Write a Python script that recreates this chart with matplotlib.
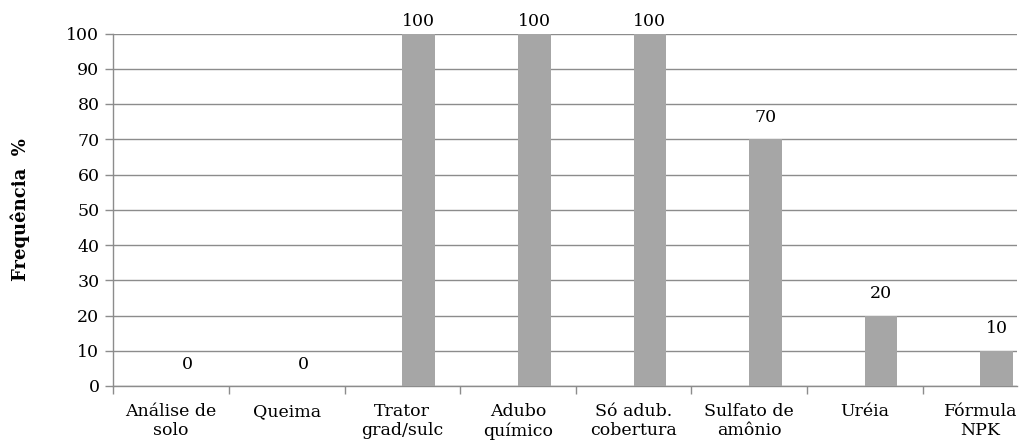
import matplotlib
matplotlib.use("Agg")
import matplotlib.pyplot as plt
import numpy as np

categories = ["Análise de\nsolo", "Queima", "Trator\ngrad/sulc", "Adubo\nquímico",
              "Só adub.\ncobertura", "Sulfato de\namônio", "Uréia", "Fórmula\nNPK"]
values = [0, 0, 100, 100, 100, 70, 20, 10]
yticks = list(range(0, 101, 10))

BAR_COLOR = "#a6a6a6"
LINE_COLOR = "#8c8c8c"

plt.rcParams["font.family"] = "DejaVu Serif"

W, H = 1019, 446
fig = plt.figure(figsize=(W / 100, H / 100), dpi=100)
# plot area in pixels: left 113, right 1017, top 33.5, bottom 386
ax = fig.add_axes([113.3 / W, 60 / H, (1017 - 113.3) / W, 352.5 / H])

x = np.arange(len(categories))
# bars start at the slot centre (second series of the cluster)
ax.bar(x, values, width=0.283, align="edge", color=BAR_COLOR, zorder=3)

# value labels, pulled down when they would leave the chart
for xi, v in zip(x, values):
    y = min(v + 6.2, 103.4)
    ax.text(xi + 0.1415, y, str(v), ha="center", va="center", fontsize=12.5,
            color="black", clip_on=False)

ax.set_yticks(yticks)
ax.yaxis.grid(True, color=LINE_COLOR, linewidth=1, zorder=0)
ax.set_axisbelow(True)

ax.set_xticks(x)
ax.set_xticklabels(categories, fontsize=12.5, linespacing=1.2)
ax.set_xticks(np.arange(-0.5, len(categories), 1), minor=True)
ax.tick_params(axis="x", which="major", length=0, pad=12)
ax.tick_params(axis="x", which="minor", length=6, color=LINE_COLOR, width=1)
ax.tick_params(axis="y", length=6, color=LINE_COLOR, width=1, pad=4, labelsize=12.5)

# limits last, the tick setters above widen the view
ax.set_xlim(-0.5, 7.317)
ax.set_ylim(0, 100)

for s in ["top", "right"]:
    ax.spines[s].set_visible(False)
for s in ["left", "bottom"]:
    ax.spines[s].set_color(LINE_COLOR)
    ax.spines[s].set_linewidth(1)

ax.set_ylabel("Frequência  %", fontsize=13, fontweight="bold", va="center")
ax.yaxis.set_label_coords((20 - 113.3) / (1017 - 113.3), 0.5)

fig.savefig("out.png", dpi=100)
